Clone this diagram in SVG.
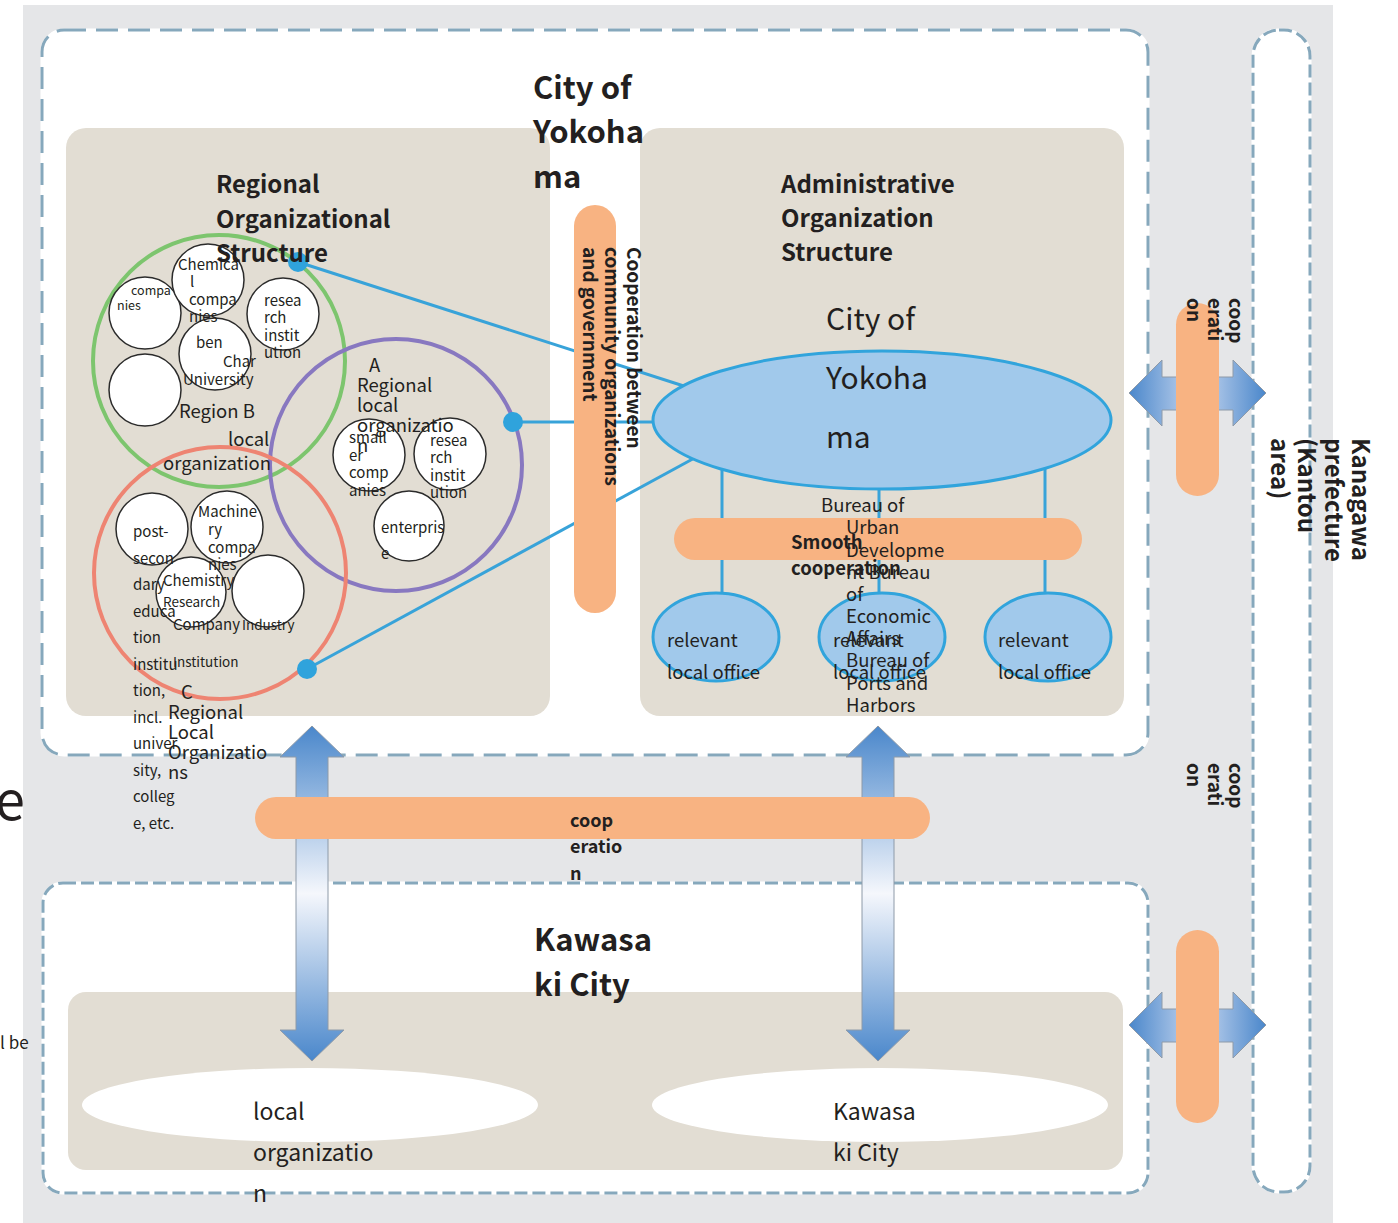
<svg xmlns="http://www.w3.org/2000/svg" width="1398" height="1223" viewBox="0 0 1398 1223">
  <style>
    text { font-family: "Noto Sans CJK JP", "Noto Sans", sans-serif; fill: #231f20; }
    .b { font-weight: 700; }
    .h1 { font-size: 31px; font-weight: 700; }
    .h2 { font-size: 24px; font-weight: 700; }
    .lbl { font-size: 18.5px; }
    .sm { font-size: 15px; }
    .xs { font-size: 13.5px; }
    .tiny { font-size: 12.5px; }
    .frame-under { fill: none; stroke: #ffffff; stroke-width: 3; }
    .frame { fill: none; stroke: #86a8bc; stroke-width: 3; }
    .panel { fill: #e2ddd3; }
    .pill { fill: #f8b382; }
    .sc { fill: #ffffff; stroke: #2b2b2b; stroke-width: 1.5; }
    .ring { fill: none; stroke-width: 4; }
    .link { fill: none; stroke: #38a3d9; stroke-width: 3; }
    .dot { fill: #2fa3dc; }
    .office { fill: #a1c9eb; stroke: #31a4dc; stroke-width: 3; }
    .arrow { stroke: #8e9aa8; stroke-width: 1; }
  </style>
  <defs>
    <linearGradient id="gradV" gradientUnits="userSpaceOnUse" x1="0" y1="726" x2="0" y2="1061">
      <stop offset="0" stop-color="#4a87cb"/>
      <stop offset="0.5" stop-color="#f5f7fc"/>
      <stop offset="1" stop-color="#4a87cb"/>
    </linearGradient>
    <linearGradient id="gradH" gradientUnits="userSpaceOnUse" x1="1129" y1="0" x2="1266" y2="0">
      <stop offset="0" stop-color="#4a87cb"/>
      <stop offset="0.5" stop-color="#c9d8f0"/>
      <stop offset="1" stop-color="#4a87cb"/>
    </linearGradient>
  </defs>

  <!-- backdrop -->
  <rect x="0" y="0" width="1398" height="1223" fill="#ffffff"/>
  <rect x="23" y="5" width="1310" height="1218" fill="#e5e6e8"/>
  <text x="-5" y="820" style="font-size:54px">e</text>
  <text x="0" y="1049" style="font-size:17px">l be</text>

  <!-- Kanagawa prefecture frame -->
  <g id="kanagawa">
    <rect x="1253" y="30" width="57" height="1162" rx="26" fill="#ffffff"/>
    <rect class="frame-under" x="1253" y="30" width="57" height="1162" rx="26"/>
    <rect class="frame" x="1253" y="30" width="57" height="1162" rx="26" stroke-dasharray="13 5"/>
    <text class="b" transform="translate(1352,438) rotate(90)" style="font-size:24px">
      <tspan x="0" y="0">Kanagawa</tspan>
      <tspan x="0" y="27">prefecture</tspan>
      <tspan x="0" y="54">(Kantou</tspan>
      <tspan x="0" y="81">area)</tspan>
    </text>
  </g>

  <!-- City of Yokohama frame -->
  <g id="yokohama">
    <rect x="42" y="30" width="1106" height="725" rx="22" fill="#ffffff"/>
    <rect class="frame-under" x="42" y="30" width="1106" height="725" rx="22"/>
    <rect class="frame" x="42" y="30" width="1106" height="725" rx="22" stroke-dasharray="22 10"/>
  </g>

  <!-- Kawasaki City frame -->
  <g id="kawasaki">
    <rect x="43" y="883" width="1105" height="310" rx="20" fill="#ffffff"/>
    <rect class="frame-under" x="43" y="883" width="1105" height="310" rx="20"/>
    <rect class="frame" x="43" y="883" width="1105" height="310" rx="20" stroke-dasharray="13 5"/>
    <rect class="panel" x="68" y="992" width="1055" height="178" rx="18"/>
    <ellipse id="kawasaki-local" cx="310" cy="1105" rx="228" ry="37" fill="#ffffff"/>
    <ellipse id="kawasaki-city" cx="880" cy="1105" rx="228" ry="37" fill="#ffffff"/>
  </g>

  <!-- structure panels -->
  <rect id="regional-panel" class="panel" x="66" y="128" width="484" height="588" rx="20"/>
  <rect id="admin-panel" class="panel" x="640" y="128" width="484" height="588" rx="20"/>

  <!-- connectors -->
  <g id="connectors">
    <line class="link" x1="298" y1="262" x2="690" y2="388"/>
    <line class="link" x1="513" y1="422" x2="660" y2="422"/>
    <line class="link" x1="307" y1="669" x2="700" y2="455"/>
    <line class="link" x1="722" y1="460" x2="722" y2="596"/>
    <line class="link" x1="879" y1="480" x2="879" y2="596"/>
    <line class="link" x1="1045" y1="460" x2="1045" y2="596"/>
    <path class="arrow" fill="url(#gradV)" d="M312,726 L344,757 L328,757 L328,1030 L344,1030 L312,1061 L280,1030 L296,1030 L296,757 L280,757 Z"/>
    <path class="arrow" fill="url(#gradV)" d="M878,726 L910,757 L894,757 L894,1030 L910,1030 L878,1061 L846,1030 L862,1030 L862,757 L846,757 Z"/>
    <path class="arrow" fill="url(#gradH)" d="M1129,393 L1162,360 L1162,377 L1233,377 L1233,360 L1266,393 L1233,426 L1233,410 L1162,410 L1162,426 Z"/>
    <path class="arrow" fill="url(#gradH)" d="M1129,1025 L1162,992 L1162,1009 L1233,1009 L1233,992 L1266,1025 L1233,1058 L1233,1042 L1162,1042 L1162,1058 Z"/>
  </g>

  <!-- Region B -->
  <g id="region-b">
    <circle class="ring" cx="219" cy="361" r="126" stroke="#7dc56e"/>
    <circle class="sc" cx="145" cy="313" r="36"/>
    <circle class="sc" cx="208" cy="280" r="36"/>
    <circle class="sc" cx="283" cy="314" r="36"/>
    <circle class="sc" cx="215" cy="354" r="36"/>
    <circle class="sc" cx="145" cy="390" r="36"/>
  </g>

  <!-- Region A -->
  <g id="region-a">
    <circle class="ring" cx="396" cy="465" r="126" stroke="#8878c0"/>
    <circle class="sc" cx="369" cy="455" r="36"/>
    <circle class="sc" cx="450" cy="454" r="36"/>
    <circle class="sc" cx="409" cy="526" r="35"/>
  </g>

  <!-- Region C -->
  <g id="region-c">
    <circle class="ring" cx="220" cy="573" r="126" stroke="#ee8472"/>
    <circle class="sc" cx="152" cy="529" r="36"/>
    <circle class="sc" cx="227" cy="527" r="36"/>
    <circle class="sc" cx="191" cy="592" r="35"/>
    <circle class="sc" cx="268" cy="591" r="36"/>
  </g>

  <g id="link-points">
    <circle class="dot" cx="298" cy="262" r="10"/>
    <circle class="dot" cx="513" cy="422" r="10"/>
    <circle class="dot" cx="307" cy="669" r="10"/>
  </g>

  <!-- Yokohama administration -->
  <g id="city-hall">
    <ellipse class="office" cx="882" cy="420" rx="229" ry="69"/>
  </g>
  <g id="local-offices">
    <ellipse class="office" cx="716" cy="637" rx="63" ry="44"/>
    <ellipse class="office" cx="882" cy="637" rx="63" ry="44"/>
    <ellipse class="office" cx="1048" cy="637" rx="63" ry="44"/>
  </g>

  <!-- cooperation bands -->
  <g id="bands">
    <rect class="pill" x="574" y="205" width="42" height="408" rx="21"/>
    <rect class="pill" x="674" y="518" width="408" height="42" rx="21"/>
    <rect class="pill" x="255" y="797" width="675" height="42" rx="21"/>
    <rect class="pill" x="1176" y="303" width="43" height="193" rx="21.5"/>
    <rect class="pill" x="1176" y="930" width="43" height="193" rx="21.5"/>
  </g>

  <!-- labels -->
  <g id="labels">
    <text class="h1"><tspan x="533" y="99">City of</tspan><tspan x="533" y="143">Yokoha</tspan><tspan x="533" y="188">ma</tspan></text>
    <text class="h2"><tspan x="216" y="193">Regional</tspan><tspan x="216" y="228">Organizational</tspan><tspan x="216" y="262">Structure</tspan></text>
    <text class="h2"><tspan x="781" y="193">Administrative</tspan><tspan x="781" y="227">Organization</tspan><tspan x="781" y="261">Structure</tspan></text>

    <text class="b" transform="translate(627,247) rotate(90)" style="font-size:19px">
      <tspan x="0" y="0">Cooperation between</tspan>
      <tspan x="0" y="22">community organizations</tspan>
      <tspan x="0" y="44">and government</tspan>
    </text>

    <!-- Region B texts -->
    <text class="tiny"><tspan x="131" y="295">compa</tspan><tspan x="117" y="310">nies</tspan></text>
    <text class="sm"><tspan x="178" y="270">Chemica</tspan><tspan x="190" y="287">l</tspan><tspan x="189" y="305">compa</tspan><tspan x="189" y="322">nies</tspan></text>
    <text class="sm"><tspan x="264" y="306">resea</tspan><tspan x="264" y="323">rch</tspan><tspan x="264" y="341">instit</tspan><tspan x="264" y="358">ution</tspan></text>
    <text class="sm"><tspan x="196" y="348">ben</tspan><tspan x="223" y="367">Char</tspan><tspan x="183" y="385">University</tspan></text>
    <text class="lbl"><tspan x="179" y="418">Region B</tspan><tspan x="228" y="446">local</tspan><tspan x="163" y="470">organization</tspan></text>

    <!-- Region A texts -->
    <text class="lbl"><tspan x="369" y="372">A</tspan><tspan x="357" y="392">Regional</tspan><tspan x="357" y="412">local</tspan><tspan x="357" y="432">organizatio</tspan><tspan x="357" y="452">n</tspan></text>
    <text class="sm"><tspan x="349" y="443">small</tspan><tspan x="349" y="461">er</tspan><tspan x="349" y="478">comp</tspan><tspan x="349" y="496">anies</tspan></text>
    <text class="sm"><tspan x="430" y="446">resea</tspan><tspan x="430" y="463">rch</tspan><tspan x="430" y="481">instit</tspan><tspan x="430" y="498">ution</tspan></text>
    <text class="sm"><tspan x="381" y="533">enterpris</tspan><tspan x="381" y="559">e</tspan></text>

    <!-- Region C texts -->
    <text class="sm">
      <tspan x="133" y="537">post-</tspan><tspan x="133" y="563.5">secon</tspan><tspan x="133" y="590">dary</tspan><tspan x="133" y="616.5">educa</tspan>
      <tspan x="133" y="643">tion</tspan><tspan x="133" y="669.5">institu</tspan><tspan x="133" y="696">tion,</tspan><tspan x="133" y="722.5">incl.</tspan>
      <tspan x="133" y="749">univer</tspan><tspan x="133" y="775.5">sity,</tspan><tspan x="133" y="802">colleg</tspan><tspan x="133" y="828.5">e, etc.</tspan>
    </text>
    <text class="sm"><tspan x="198" y="517">Machine</tspan><tspan x="208" y="535">ry</tspan><tspan x="208" y="553">compa</tspan><tspan x="208" y="570">nies</tspan></text>
    <text class="sm" x="163" y="586">Chemistry</text>
    <text class="xs" x="163" y="607">Research</text>
    <text class="sm" x="173" y="630">Company</text>
    <text class="xs" x="242" y="630">Industry</text>
    <text class="xs" x="173" y="667">Institution</text>
    <text class="lbl"><tspan x="181" y="699">C</tspan><tspan x="168" y="719">Regional</tspan><tspan x="168" y="739">Local</tspan><tspan x="168" y="759">Organizatio</tspan><tspan x="168" y="779">ns</tspan></text>

    <!-- administration texts -->
    <text style="font-size:30px"><tspan x="826" y="330">City of</tspan><tspan x="826" y="389">Yokoha</tspan><tspan x="826" y="448">ma</tspan></text>
    <text class="lbl"><tspan x="821" y="512">Bureau of</tspan><tspan x="846" y="534">Urban</tspan><tspan x="846" y="557">Developme</tspan><tspan x="846" y="579">nt Bureau</tspan><tspan x="846" y="601">of</tspan><tspan x="846" y="623">Economic</tspan><tspan x="846" y="645">Affairs</tspan><tspan x="846" y="667">Bureau of</tspan><tspan x="846" y="690">Ports and</tspan><tspan x="846" y="712">Harbors</tspan></text>
    <text class="lbl b"><tspan x="791" y="549">Smooth</tspan><tspan x="791" y="575">cooperation</tspan></text>
    <text class="lbl"><tspan x="667" y="647">relevant</tspan><tspan x="667" y="679">local office</tspan></text>
    <text class="lbl"><tspan x="833" y="647">relevant</tspan><tspan x="833" y="679">local office</tspan></text>
    <text class="lbl"><tspan x="998" y="647">relevant</tspan><tspan x="998" y="679">local office</tspan></text>

    <!-- cooperation band texts -->
    <text class="b" style="font-size:18px"><tspan x="570" y="827">coop</tspan><tspan x="570" y="853">eratio</tspan><tspan x="570" y="880">n</tspan></text>
    <text class="b" transform="translate(1229,298) rotate(90)" style="font-size:19px"><tspan x="0" y="0">coop</tspan><tspan x="0" y="21">erati</tspan><tspan x="0" y="42">on</tspan></text>
    <text class="b" transform="translate(1229,763) rotate(90)" style="font-size:19px"><tspan x="0" y="0">coop</tspan><tspan x="0" y="21">erati</tspan><tspan x="0" y="42">on</tspan></text>

    <!-- Kawasaki texts -->
    <text class="h1"><tspan x="534" y="951">Kawasa</tspan><tspan x="534" y="996">ki City</tspan></text>
    <text style="font-size:23px"><tspan x="253" y="1120">local</tspan><tspan x="253" y="1161">organizatio</tspan><tspan x="253" y="1202">n</tspan></text>
    <text style="font-size:23px"><tspan x="833" y="1120">Kawasa</tspan><tspan x="833" y="1161">ki City</tspan></text>
  </g>
</svg>
